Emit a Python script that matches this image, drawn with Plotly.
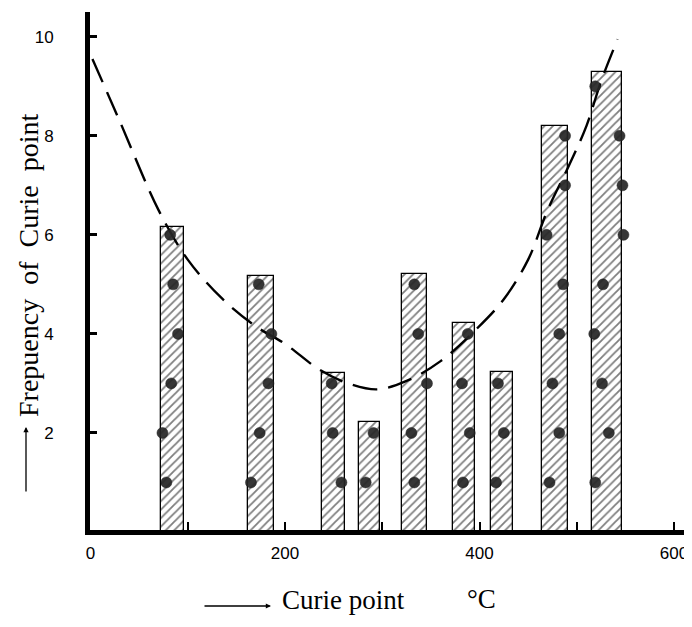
import plotly.graph_objects as go

# ---- data ----
bin_centers = [84, 175, 250, 287, 333, 384, 423, 478, 531]
bin_widths = [24, 27, 24, 22, 26, 23, 23, 27, 31]
bar_heights = [6.15, 5.17, 3.22, 2.23, 5.21, 4.22, 3.24, 8.2, 9.28]

dot_x = [82, 85, 90, 83, 74, 78,
         173, 186, 183, 174, 165,
         248, 249, 258,
         291, 283,
         333, 337, 346, 330, 333,
         388, 382, 390, 383,
         419, 425, 417,
         488, 488, 469, 486, 482, 475, 482, 472,
         519, 544, 547, 548, 527, 518, 526, 533, 519]
dot_y = [6, 5, 4, 3, 2, 1,
         5, 4, 3, 2, 1,
         3, 2, 1,
         2, 1,
         5, 4, 3, 2, 1,
         4, 3, 2, 1,
         3, 2, 1,
         8, 7, 6, 5, 4, 3, 2, 1,
         9, 8, 7, 6, 5, 4, 3, 2, 1]

curve_x = [2, 30, 70, 100, 136, 171, 200, 236, 265, 295, 325, 360, 397, 425, 450, 470, 492, 510, 525, 542]
curve_y = [9.55, 8.3, 6.5, 5.5, 4.7, 4.14, 3.8, 3.27, 3.0, 2.88, 3.05, 3.45, 4.1, 4.7, 5.5, 6.5, 7.4, 8.2, 9.1, 9.95]

x_tickvals = [0, 100, 200, 300, 400, 500, 600]
x_ticktext = ["0", "", "200", "", "400", "", "600"]
y_tickvals = [2, 4, 6, 8, 10]
y_ticktext = ["2", "4", "6", "8", "10"]

# page body has an 8px margin; size the figure so nothing overflows the window
W, H = 684, 611
ML, MR, MT, MB = 82, 0, 4, 89
PW, PH = W - ML - MR, H - MT - MB


def px_x(X):
    return (X - 8 - ML) / PW


def px_y(Y):
    return (H - MB - (Y - 8)) / PH


fig = go.Figure()

fig.add_trace(go.Bar(
    x=bin_centers, y=bar_heights, width=bin_widths,
    marker=dict(color="white",
                line=dict(color="black", width=1.3),
                pattern=dict(shape="/", fgcolor="black", bgcolor="white",
                             size=6, solidity=0.3)),
    showlegend=False, hoverinfo="skip"))

fig.add_trace(go.Scatter(
    x=curve_x, y=curve_y, mode="lines",
    line=dict(color="black", width=2.4, dash="25px,11px", shape="spline"),
    showlegend=False, hoverinfo="skip"))

fig.add_trace(go.Scatter(
    x=dot_x, y=dot_y, mode="markers",
    marker=dict(color="#262626", size=11, opacity=0.92,
                line=dict(color="#111111", width=0.5)),
    showlegend=False, hoverinfo="skip"))

tick_font = dict(family="Liberation Sans Narrow, Liberation Sans, Arial", size=17, color="black")

fig.update_layout(
    width=W, height=H,
    margin=dict(l=ML, r=MR, t=MT, b=MB),
    paper_bgcolor="white", plot_bgcolor="white",
    bargap=0,
    xaxis=dict(range=[-0.5, 618.5], showgrid=False, zeroline=False,
               showline=True, linecolor="black", linewidth=5,
               ticks="inside", ticklen=8, tickwidth=2, tickcolor="black",
               tickvals=x_tickvals, ticktext=x_ticktext,
               tickfont=tick_font, ticklabelstandoff=4),
    yaxis=dict(range=[0.04, 10.5], showgrid=False, zeroline=False,
               showline=True, linecolor="black", linewidth=5,
               ticks="inside", ticklen=7, tickwidth=3, tickcolor="black",
               tickvals=y_tickvals, ticktext=y_ticktext,
               tickfont=tick_font, ticklabelstandoff=28),
)

serif = "Liberation Serif, Times New Roman, serif"

# y-axis title with arrow
fig.add_annotation(text="Frepuency  of  Curie  point", xref="paper", yref="paper",
                   x=px_x(28), y=px_y(266), xanchor="center", yanchor="middle",
                   showarrow=False, textangle=-90,
                   font=dict(family=serif, size=28, color="black"))
fig.add_annotation(text="", xref="paper", yref="paper",
                   x=px_x(26), y=px_y(427), ax=0, ay=66,
                   showarrow=True, arrowhead=2, arrowsize=0.8, arrowwidth=1.3,
                   arrowcolor="black")

# x-axis title with arrow
fig.add_annotation(text="Curie point", xref="paper", yref="paper",
                   x=px_x(343), y=px_y(600), xanchor="center", yanchor="middle",
                   showarrow=False,
                   font=dict(family=serif, size=27, color="black"))
fig.add_annotation(text="°C", xref="paper", yref="paper",
                   x=px_x(481), y=px_y(599), xanchor="center", yanchor="middle",
                   showarrow=False,
                   font=dict(family=serif, size=27, color="black"))
fig.add_annotation(text="", xref="paper", yref="paper",
                   x=px_x(271), y=px_y(606), ax=-68, ay=0,
                   showarrow=True, arrowhead=2, arrowsize=0.8, arrowwidth=1.3,
                   arrowcolor="black")

fig.write_html("out.html")
